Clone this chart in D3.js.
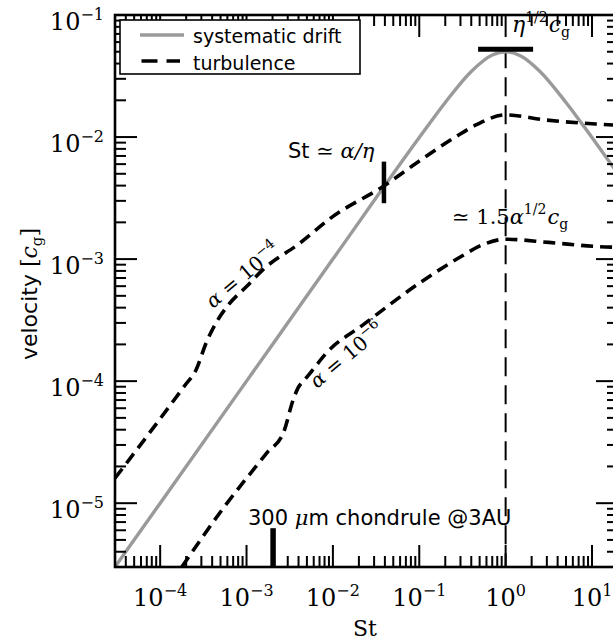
<!DOCTYPE html>
<html>
<head>
<meta charset="utf-8">
<script src="https://cdn.jsdelivr.net/npm/d3@7"></script>
<style>
  html, body { margin: 0; padding: 0; background: #fff; }
  svg { display: block; }
</style>
</head>
<body>
<svg id="chart" width="613" height="643"></svg>
<script>
// ---- data (Stokes number St, velocity in units of c_g) ----
const driftSt = [3e-5, 1e-4, 1e-3, 1e-2, 0.1, 0.2, 0.4, 0.7, 1, 1.5, 2.5, 5, 10, 20];
const driftV  = [3e-6, 1e-5, 1e-4, 1e-3, 0.0099, 0.0192, 0.0345, 0.047, 0.05, 0.0462, 0.0345, 0.0192, 0.0099, 0.005];

// turbulent velocity, alpha = 1e-4
const turbHiSt = [3e-5, 9.2e-5, 1.95e-4, 2.55e-4, 3.46e-4, 4.52e-4, 6.15e-4, 1.0e-3, 1.55e-3, 4.14e-3, 9.95e-3, 0.038, 0.092, 0.267, 0.454, 1.0, 2.92, 11.0, 20];
const turbHiV  = [1.6e-5, 4.55e-5, 9.3e-5, 1.2e-4, 2.11e-4, 3.07e-4, 4.21e-4, 5.96e-4, 8.2e-4, 1.35e-3, 2.23e-3, 3.93e-3, 6.1e-3, 0.0101, 0.01256, 0.0152, 0.0138, 0.0128, 0.0125];

// turbulent velocity, alpha = 1e-6
const turbLoSt = [1.78e-4, 5.38e-4, 1.71e-3, 2.7e-3, 3.46e-3, 3.95e-3, 4.72e-3, 5.65e-3, 8.4e-3, 0.0223, 0.105, 0.305, 0.54, 1.0, 3.16, 12.0, 20];
const turbLoV  = [3.0e-6, 9.1e-6, 2.57e-5, 3.85e-5, 7.0e-5, 8.8e-5, 1.03e-4, 1.2e-4, 1.7e-4, 2.89e-4, 6.5e-4, 1.05e-3, 1.31e-3, 1.455e-3, 1.37e-3, 1.265e-3, 1.25e-3];

// reference marks
const peakSt = 1;
const peakBarSt = [0.48, 2.08];
const peakBarV = 0.0525;
const transitionSt = 0.039;
const transitionV = [2.87e-3, 6.29e-3];
const chondruleSt = 2.03e-3;
const chondruleV = [3e-6, 6.24e-6];

// axes
const stDomain = [3e-5, 20];
const vDomain = [3e-6, 0.1];
const xMajor = [1e-4, 1e-3, 1e-2, 1e-1, 1, 10];
const xExp   = ["\u22124", "\u22123", "\u22122", "\u22121", "0", "1"];
const yMajor = [1e-5, 1e-4, 1e-3, 1e-2, 1e-1];
const yExp   = ["\u22125", "\u22124", "\u22123", "\u22122", "\u22121"];

// ---- layout ----
const X0 = 115, X1 = 618, Y0 = 15, Y1 = 567;
const MAJOR = 22, MINOR = 11;
const SANS = "DejaVu Sans, sans-serif";
const SERIF = "DejaVu Serif, serif";
const GRAY = "#9a9a9a";

const svg = d3.select("#chart");
const x = d3.scaleLog().domain(stDomain).range([X0, X1]);
const y = d3.scaleLog().domain(vDomain).range([Y1, Y0]);

function minorTicks(domain) {
  const out = [];
  const e0 = Math.floor(Math.log10(domain[0])), e1 = Math.ceil(Math.log10(domain[1]));
  for (let e = e0; e <= e1; e++) {
    for (let k = 2; k <= 9; k++) {
      const v = k * Math.pow(10, e);
      if (v > domain[0] * 1.001 && v < domain[1] * 0.999) out.push(v);
    }
  }
  return out;
}
const xMinor = minorTicks(stDomain);
const yMinor = minorTicks(vDomain);

// ---- curves ----
svg.append("defs").append("clipPath").attr("id", "plotClip")
  .append("rect").attr("x", X0).attr("y", Y0).attr("width", X1 - X0).attr("height", Y1 - Y0);

const plot = svg.append("g").attr("clip-path", "url(#plotClip)");
const zip = (a, b) => a.map((s, i) => [s, b[i]]);
const line = d3.line().x(d => x(d[0])).y(d => y(d[1])).curve(d3.curveMonotoneX);

// vertical guide at St = 1
plot.append("line")
  .attr("x1", x(peakSt)).attr("x2", x(peakSt))
  .attr("y1", y(peakBarV)).attr("y2", Y1)
  .attr("stroke", "#000").attr("stroke-width", 2).attr("stroke-dasharray", "19,9");

plot.append("path").datum(zip(driftSt, driftV))
  .attr("d", line).attr("fill", "none")
  .attr("stroke", GRAY).attr("stroke-width", 3.4);

plot.append("path").datum(zip(turbHiSt, turbHiV))
  .attr("d", line).attr("fill", "none")
  .attr("stroke", "#000").attr("stroke-width", 3.6).attr("stroke-dasharray", "12,7");

plot.append("path").datum(zip(turbLoSt, turbLoV))
  .attr("d", line).attr("fill", "none")
  .attr("stroke", "#000").attr("stroke-width", 3.6).attr("stroke-dasharray", "12,7");

// peak marker
plot.append("line")
  .attr("x1", x(peakBarSt[0])).attr("x2", x(peakBarSt[1]))
  .attr("y1", y(peakBarV)).attr("y2", y(peakBarV))
  .attr("stroke", "#000").attr("stroke-width", 5);

// St ~ alpha/eta marker
plot.append("line")
  .attr("x1", x(transitionSt)).attr("x2", x(transitionSt))
  .attr("y1", y(transitionV[0])).attr("y2", y(transitionV[1]))
  .attr("stroke", "#000").attr("stroke-width", 4.5);

// chondrule size marker
plot.append("line")
  .attr("x1", x(chondruleSt)).attr("x2", x(chondruleSt))
  .attr("y1", y(chondruleV[0])).attr("y2", y(chondruleV[1]))
  .attr("stroke", "#000").attr("stroke-width", 5.5);

// ---- tick marks on all four sides, pointing inward ----
const tickG = svg.append("g")
  .attr("stroke", "#000").attr("stroke-width", 2);

function xTickMarks(values, len) {
  const g = tickG.append("g");
  g.selectAll("line.b").data(values).join("line").attr("class", "b")
    .attr("x1", d => x(d)).attr("x2", d => x(d))
    .attr("y1", Y1).attr("y2", Y1 - len);
  g.selectAll("line.t").data(values).join("line").attr("class", "t")
    .attr("x1", d => x(d)).attr("x2", d => x(d))
    .attr("y1", Y0).attr("y2", Y0 + len);
}
function yTickMarks(values, len) {
  const g = tickG.append("g");
  g.selectAll("line.l").data(values).join("line").attr("class", "l")
    .attr("y1", d => y(d)).attr("y2", d => y(d))
    .attr("x1", X0).attr("x2", X0 + len);
  g.selectAll("line.r").data(values).join("line").attr("class", "r")
    .attr("y1", d => y(d)).attr("y2", d => y(d))
    .attr("x1", X1).attr("x2", X1 - len);
}
xTickMarks(xMinor, MINOR);
xTickMarks(xMajor, MAJOR);
yTickMarks(yMinor, MINOR);
yTickMarks(yMajor, MAJOR);

// ---- tick labels: 10 with a raised exponent ----
function powerLabels(values, exps, px, py, anchor) {
  const t = svg.append("g").selectAll("text").data(values).join("text")
    .attr("x", px).attr("y", py)
    .attr("text-anchor", anchor)
    .attr("font-family", SERIF).attr("font-size", 24).attr("fill", "#000");
  t.append("tspan").text("10");
  t.append("tspan").attr("dy", -10).attr("font-size", 16).text((d, i) => exps[i]);
}
powerLabels(xMajor, xExp, d => x(d), Y1 + 39, "middle");
powerLabels(yMajor, yExp, X0 - 11, d => y(d) + 15, "end");

// frame outline
svg.append("rect")
  .attr("x", X0).attr("y", Y0).attr("width", X1 - X0).attr("height", Y1 - Y0)
  .attr("fill", "none").attr("stroke", "#000").attr("stroke-width", 2.6);

// ---- annotations ----
const ann = svg.append("g").attr("fill", "#000");

// eta^{1/2} c_g
{
  const t = ann.append("text").attr("x", 512).attr("y", 32)
    .attr("font-family", SERIF).attr("font-size", 22);
  t.append("tspan").attr("font-style", "italic").text("\u03b7");
  t.append("tspan").attr("dy", -10).attr("font-size", 14).text("1/2");
  t.append("tspan").attr("dy", 10).attr("dx", 1).attr("font-style", "italic").text("c");
  t.append("tspan").attr("dy", 5).attr("font-size", 14).text("g");
}

// ~ 1.5 alpha^{1/2} c_g
{
  const t = ann.append("text").attr("x", 452).attr("y", 224)
    .attr("font-family", SERIF).attr("font-size", 21);
  t.append("tspan").text("\u2243 1.5");
  t.append("tspan").attr("font-style", "italic").text("\u03b1");
  t.append("tspan").attr("dy", -10).attr("font-size", 14).text("1/2");
  t.append("tspan").attr("dy", 10).attr("dx", 1).attr("font-style", "italic").text("c");
  t.append("tspan").attr("dy", 5).attr("font-size", 14).text("g");
}

// St ~ alpha/eta
{
  const t = ann.append("text").attr("x", 288).attr("y", 158).attr("font-size", 21);
  t.append("tspan").attr("font-family", SANS).text("St");
  t.append("tspan").attr("font-family", SERIF).text(" \u2243 ");
  t.append("tspan").attr("font-family", SERIF).attr("font-style", "italic").text("\u03b1/\u03b7");
}

// alpha labels along the turbulence curves
function alphaLabel(px, py, exp) {
  const t = ann.append("text")
    .attr("transform", `translate(${px},${py}) rotate(-40)`)
    .attr("font-family", SERIF).attr("font-size", 20);
  t.append("tspan").attr("font-style", "italic").text("\u03b1");
  t.append("tspan").text(" = 10");
  t.append("tspan").attr("dy", -9).attr("font-size", 14).text(exp);
}
alphaLabel(213, 309, "\u22124");
alphaLabel(317, 389, "\u22126");

// chondrule label
{
  const t = ann.append("text").attr("x", 248).attr("y", 525)
    .attr("font-family", SANS).attr("font-size", 21);
  t.append("tspan").text("300 ");
  t.append("tspan").attr("font-family", SERIF).attr("font-style", "italic").text("\u03bc");
  t.append("tspan").text("m chondrule @3AU");
}

// axis titles
ann.append("text").attr("x", 365).attr("y", 636)
  .attr("text-anchor", "middle").attr("font-family", SERIF).attr("font-size", 22)
  .text("St");
{
  const t = ann.append("text")
    .attr("transform", "translate(37,294) rotate(-90)")
    .attr("text-anchor", "middle").attr("font-size", 22);
  t.append("tspan").attr("font-family", SANS).text("velocity ");
  t.append("tspan").attr("font-family", SERIF).text("[");
  t.append("tspan").attr("font-family", SERIF).attr("font-style", "italic").text("c");
  t.append("tspan").attr("font-family", SERIF).attr("dy", 5).attr("font-size", 15).text("g");
  t.append("tspan").attr("font-family", SERIF).attr("dy", -5).text("]");
}

// ---- legend ----
const legend = svg.append("g");
legend.append("rect").attr("x", 120).attr("y", 20).attr("width", 240).attr("height", 54)
  .attr("fill", "#fff").attr("stroke", "#000").attr("stroke-width", 1.6);
legend.append("line").attr("x1", 140).attr("x2", 184).attr("y1", 35).attr("y2", 35)
  .attr("stroke", GRAY).attr("stroke-width", 3.4);
legend.append("line").attr("x1", 141.5).attr("x2", 180).attr("y1", 61).attr("y2", 61)
  .attr("stroke", "#000").attr("stroke-width", 3.6).attr("stroke-dasharray", "16,9");
legend.append("text").attr("x", 193).attr("y", 43)
  .attr("font-family", SANS).attr("font-size", 19).text("systematic drift");
legend.append("text").attr("x", 193).attr("y", 70)
  .attr("font-family", SANS).attr("font-size", 19).text("turbulence");
</script>
</body>
</html>
